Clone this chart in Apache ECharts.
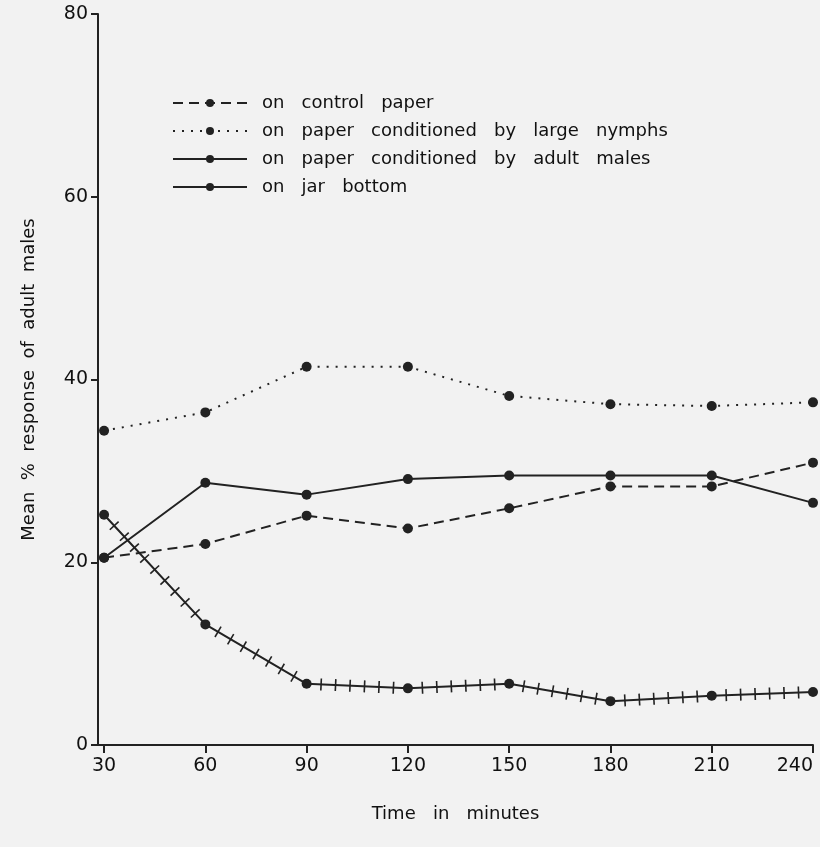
<!DOCTYPE html>
<html>
<head>
<meta charset="utf-8">
<script src="https://cdn.jsdelivr.net/npm/echarts@6/dist/echarts.min.js"></script>
<style>
html, body { margin: 0; padding: 0; background: #f2f2f2; }
#chart { width: 820px; height: 847px; }
</style>
</head>
<body>
<div id="chart"></div>
<script>
const minutes = [30, 60, 90, 120, 150, 180, 210, 240]
const controlPaper = [20.5, 22.0, 25.1, 23.7, 25.9, 28.3, 28.3, 30.9]
const largeNymphs = [34.4, 36.4, 41.4, 41.4, 38.2, 37.3, 37.1, 37.5]
const adultMales = [20.5, 28.7, 27.4, 29.1, 29.5, 29.5, 29.5, 26.5]
const jarBottom = [25.2, 13.2, 6.7, 6.2, 6.7, 4.8, 5.4, 5.8]
const yTicks = [0, 20, 40, 60, 80]
const seriesNames = [
	'on   control   paper',
	'on   paper   conditioned   by   large   nymphs',
	'on   paper   conditioned   by   adult   males',
	'on   jar   bottom',
]

const ink = '#222'
const font = 'DejaVu Sans'
const pairs = arr => arr.map((v, i) => [minutes[i], v])

const chart = echarts.init(document.getElementById('chart'))

// small cross ticks along the jar bottom line
const renderTicks = function(params, api) {
	const i = params.dataIndex
	if (i === 0) return
	const a = api.coord([minutes[i - 1], jarBottom[i - 1]])
	const b = api.coord([minutes[i], jarBottom[i]])
	const dx = b[0] - a[0]
	const dy = b[1] - a[1]
	const len = Math.sqrt(dx * dx + dy * dy)
	const ux = dx / len
	const uy = dy / len
	const n = Math.floor(len / 15)
	const step = len / (n + 1)
	const children = []
	for (let k = 1; k <= n; k++) {
		const cx = a[0] + ux * step * k
		const cy = a[1] + uy * step * k
		children.push({
			type: 'line',
			shape: { x1: cx + uy * 6, y1: cy - ux * 6, x2: cx - uy * 6, y2: cy + ux * 6 },
			style: { stroke: ink, lineWidth: 1.6 },
		})
	}
	return { type: 'group', children: children }
}

const lineSeries = function(name, values, type) {
	return {
		name: name,
		type: 'line',
		data: pairs(values),
		symbol: 'circle',
		symbolSize: 10,
		itemStyle: { color: ink },
		lineStyle: { color: ink, width: 2, type: type },
		z: 3,
	}
}

chart.setOption({
	backgroundColor: '#f2f2f2',
	animation: false,
	grid: { left: 98, right: 7, top: 14, bottom: 102, outerBoundsMode: 'none' },
	legend: {
		orient: 'vertical',
		left: 167,
		top: 89,
		itemWidth: 74,
		itemHeight: 10,
		itemGap: 10,
		textStyle: { color: '#111', fontSize: 18, fontFamily: font, padding: [0, 0, 0, 10] },
		data: seriesNames,
	},
	xAxis: {
		type: 'value',
		min: 28.2,
		max: 240,
		name: 'Time   in   minutes',
		nameLocation: 'middle',
		nameGap: 60,
		nameTextStyle: { color: '#111', fontSize: 18, fontFamily: font },
		splitLine: { show: false },
		axisLine: { lineStyle: { color: ink, width: 2 } },
		axisTick: { customValues: minutes, length: 8, lineStyle: { color: ink, width: 2 } },
		axisLabel: { customValues: minutes, alignMaxLabel: 'right', color: '#111', fontSize: 19, fontFamily: font, margin: 12 },
	},
	yAxis: {
		type: 'value',
		min: 0,
		max: 80,
		interval: 20,
		name: 'Mean  %  response  of  adult  males',
		nameLocation: 'middle',
		nameGap: 60,
		nameTextStyle: { color: '#111', fontSize: 18, fontFamily: font },
		splitLine: { show: false },
		axisLine: { show: true, lineStyle: { color: ink, width: 2 } },
		axisTick: { show: true, customValues: yTicks, length: 7, lineStyle: { color: ink, width: 2 } },
		axisLabel: { customValues: yTicks, color: '#111', fontSize: 19, fontFamily: font, margin: 10 },
	},
	series: [
		lineSeries(seriesNames[0], controlPaper, [10, 6]),
		lineSeries(seriesNames[1], largeNymphs, [2, 7]),
		lineSeries(seriesNames[2], adultMales, 'solid'),
		lineSeries(seriesNames[3], jarBottom, 'solid'),
		{
			type: 'custom',
			renderItem: renderTicks,
			data: pairs(jarBottom),
			silent: true,
			z: 2,
		},
	],
})
</script>
</body>
</html>
